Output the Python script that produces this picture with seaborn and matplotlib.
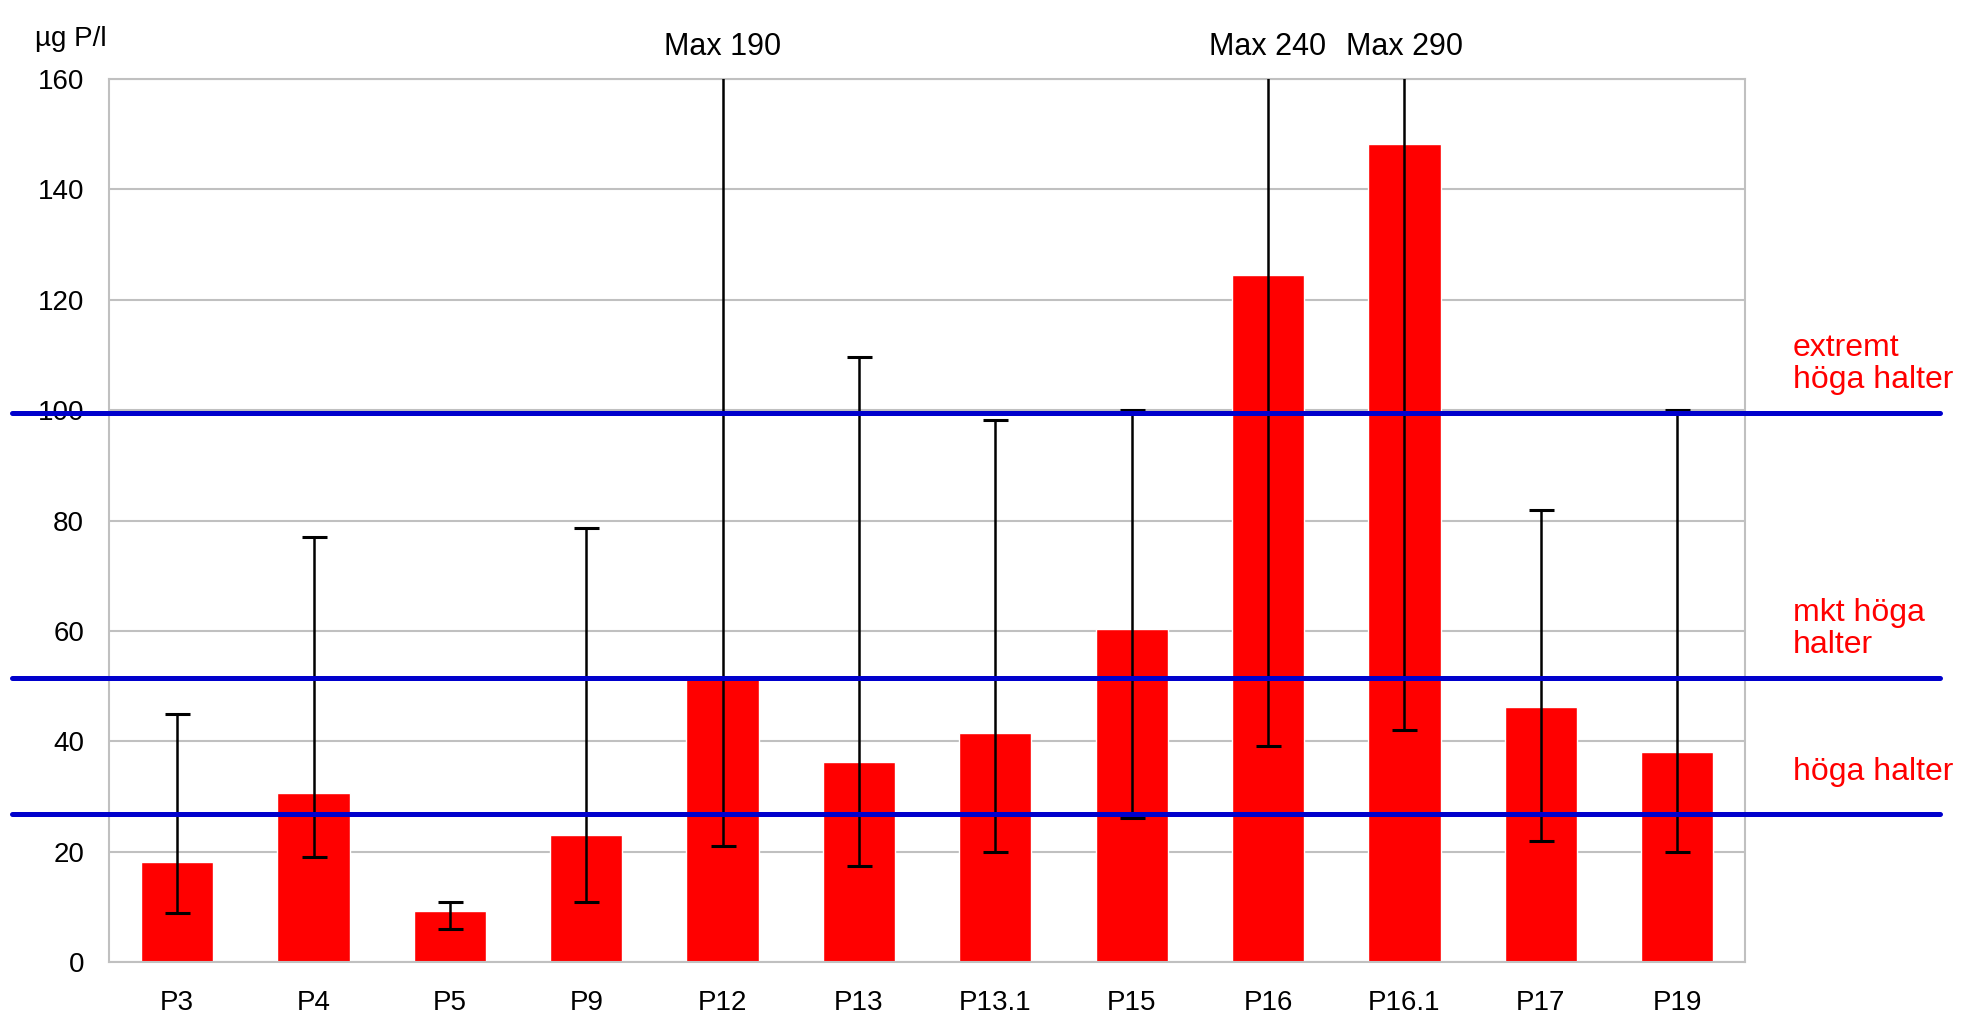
import seaborn as sns
import matplotlib.pyplot as plt
import matplotlib.transforms as mtransforms
import numpy as np
import pandas as pd

stations = ['P3', 'P4', 'P5', 'P9', 'P12', 'P13', 'P13.1', 'P15', 'P16', 'P16.1', 'P17', 'P19']
mean_p = [18.1, 30.6, 9.3, 23.1, 52.0, 36.2, 41.6, 60.4, 124.5, 148.2, 46.2, 38.0]
min_p = [9.0, 19.0, 6.1, 10.9, 21.0, 17.4, 19.9, 26.2, 39.1, 42.0, 21.9, 19.9]
max_p = [45.0, 77.0, 10.9, 78.7, 190.0, 109.7, 98.2, 100.0, 240.0, 290.0, 81.9, 100.0]

limit_values = [99.5, 51.4, 26.9]
limit_labels = ['extremt\nhöga halter', 'mkt höga\nhalter', 'höga halter']

df = pd.DataFrame({'station': stations, 'mean': mean_p, 'low': min_p, 'high': max_p})

sns.set_style('white')
plt.rcParams['font.family'] = ['Liberation Sans', 'DejaVu Sans']
plt.rcParams['text.color'] = 'black'
plt.rcParams['xtick.labelcolor'] = 'black'
plt.rcParams['ytick.labelcolor'] = 'black'

fig = plt.figure(figsize=(19.61, 10.15), dpi=100)
ax = fig.add_axes([0.0556, 0.052, 0.8344, 0.8702])

grey = '#c0c0c0'
ymax = 160

sns.barplot(data=df, x='station', y='mean', color='#ff0000', saturation=1,
            width=0.53, errorbar=None, ax=ax, zorder=2)

x = np.arange(len(df))
ax.errorbar(x, df['mean'], yerr=[df['mean'] - df['low'], df['high'] - df['mean']],
            fmt='none', ecolor='black', elinewidth=1.8, capsize=9, capthick=2.2, zorder=3)

ax.set_ylim(0, ymax)
ax.set_xlim(-0.5, len(df) - 0.5)
ax.set_yticks(range(0, ymax + 1, 20))
ax.yaxis.grid(True, color=grey, lw=1.5, zorder=0)
ax.set_axisbelow(True)
for s in ax.spines.values():
    s.set_color(grey)
    s.set_linewidth(1.5)

ax.set_xticks(x)
ax.set_xticks(np.arange(-0.5, len(df), 1), minor=True)
ax.tick_params(axis='x', which='major', length=0, pad=20, labelsize=20)
ax.tick_params(axis='x', which='minor', length=9, width=1.5, color=grey)
ax.tick_params(axis='y', length=14, width=1.5, color=grey, pad=4, labelsize=20)
ax.set_xlabel('')
ax.set_ylabel('')

fig.text(0.018, 0.962, 'µg P/l', fontsize=20, va='center', ha='left')

# labels for whiskers that go off the top
for i, hi in enumerate(df['high']):
    if hi > ymax:
        ax.annotate(f'Max {hi:g}', xy=(i, ymax), xytext=(0, 23), textcoords='offset points',
                    ha='center', va='center', fontsize=22, annotation_clip=False)

# limit lines across the whole figure
trans = mtransforms.blended_transform_factory(ax.transAxes, ax.transData)
label_pad = [13, 13, 19]
for val, lab, pad in zip(limit_values, limit_labels, label_pad):
    ax.axhline(val, xmin=-0.059, xmax=1.119, color='#0000cc', lw=3.6, clip_on=False, zorder=5)
    ax.annotate(lab, xy=(1.029, val), xycoords=trans, xytext=(0, pad), textcoords='offset points',
                ha='left', va='bottom', color='#ff0000', fontsize=23, linespacing=1.1,
                annotation_clip=False)

fig.savefig('out.png', dpi=100, facecolor='white')
